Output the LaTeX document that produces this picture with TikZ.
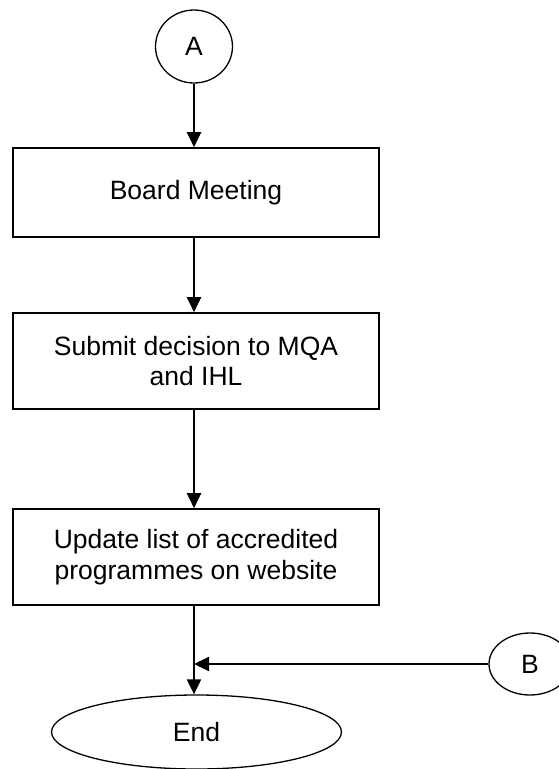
\documentclass[tikz,border=0pt]{standalone}
\usepackage{fontspec}
\setmainfont{Liberation Sans}
\usetikzlibrary{shapes.geometric,arrows.meta,calc}
\begin{document}
\begin{tikzpicture}[x=1pt,y=-1pt,
  every node/.style={font=\fontsize{26.5}{30.5}\selectfont},
  stepbox/.style={draw,line width=1.6pt,rectangle,minimum width=366pt,minimum height=#1,inner sep=0pt,align=center},
  oval/.style={draw,line width=1.3pt,ellipse,inner sep=0pt},
  flow/.style={line width=2pt,-{Triangle[length=15pt,width=14pt]}}]
\useasboundingbox (0,0) rectangle (558,769);
\node[oval,minimum width=77pt,minimum height=73pt] (A) at (194,46.5) {A};
\node[stepbox=89pt] (board) at (196,192.5) {Board Meeting};
\node[stepbox=96pt] (submit) at (196,361) {Submit decision to MQA\\and IHL};
\node[stepbox=96pt] (update) at (196,557) {Update list of accredited\\programmes on website};
\node[oval,minimum width=290pt,minimum height=74pt] (end) at (196.5,732) {End};
\node[oval,minimum width=82pt,minimum height=62pt] (B) at (530,664) {B};
\draw[flow] (A.south) -- (A.south |- board.north);
\draw[flow] (A.south |- board.south) -- (A.south |- submit.north);
\draw[flow] (A.south |- submit.south) -- (A.south |- update.north);
\draw[flow] (A.south |- update.south) -- (A.south |- end.north);
\draw[flow] (B.west) -- (A.south |- B.west);
\end{tikzpicture}
\end{document}
